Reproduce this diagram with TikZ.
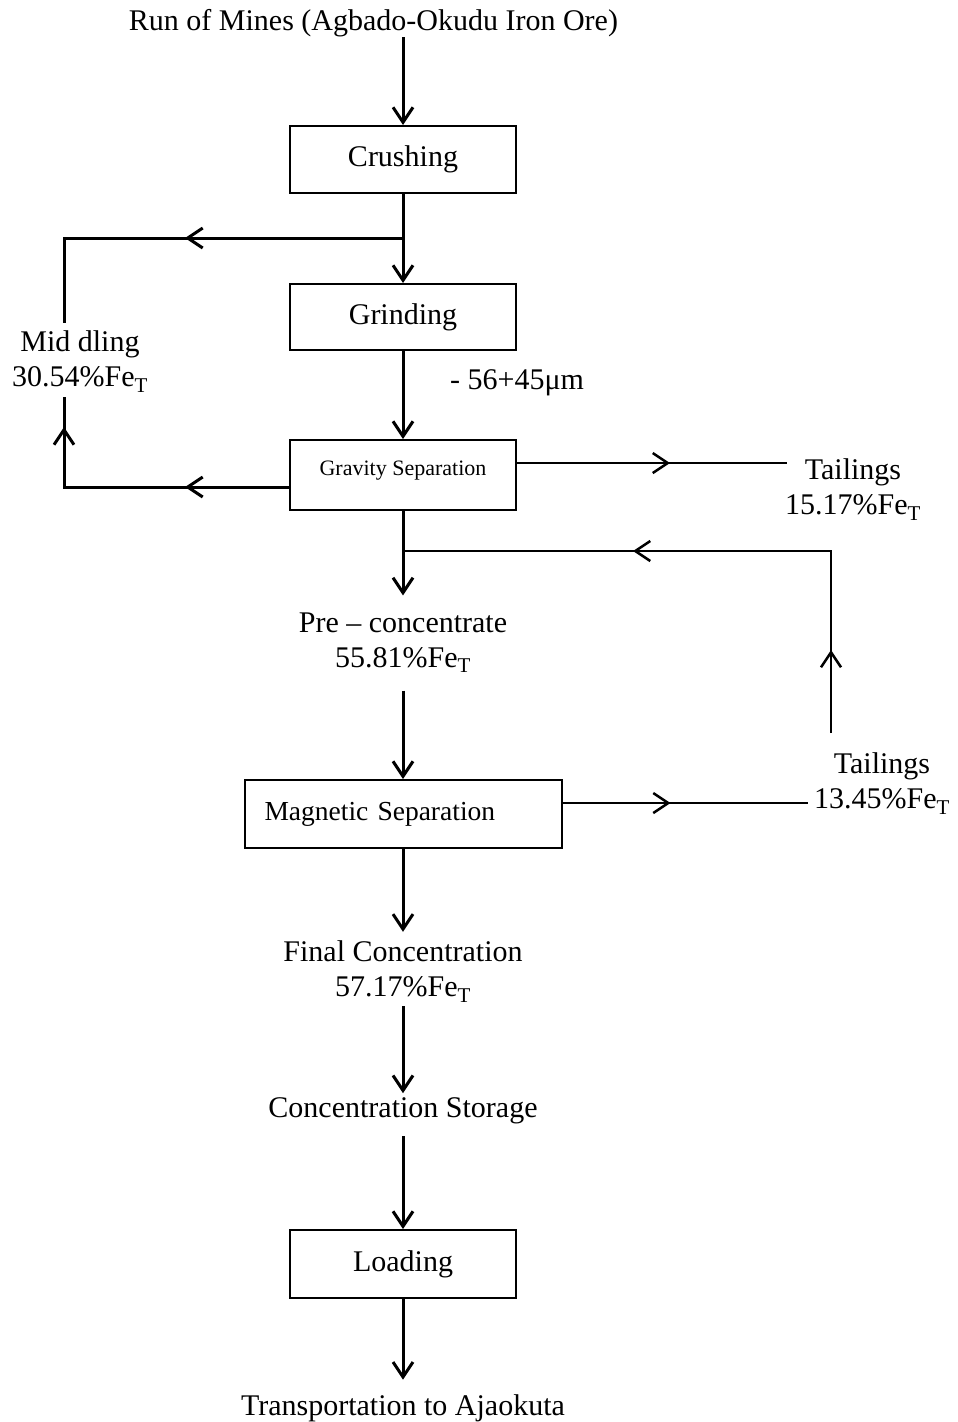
\documentclass[tikz,border=0pt]{standalone}
\usepackage{fontspec}
\setmainfont{Liberation Serif}
\usetikzlibrary{arrows.meta,decorations.markings}
\begin{document}
\begin{tikzpicture}[x=1pt,y=-1pt,
  barb/.tip={Straight Barb[length=15pt,width=20pt]},
  box/.style={draw, line width=2pt, minimum width=226pt, inner sep=0pt, font=\fontsize{30}{35}\selectfont},
  txt/.style={align=center, inner sep=0pt, font=\fontsize{30}{35}\selectfont},
  flow/.style={line width=3pt, -barb},
  loopline/.style={line width=3pt},
  sideline/.style={line width=2.5pt},
  midarrow/.style={postaction={decorate, decoration={markings, mark=at position #1 with {\arrow{barb}}}}}
]
\path[fill=white] (0,0) rectangle (958,1422);
\useasboundingbox (0,0) rectangle (958,1422);

% nodes
\node[txt] (title) at (373.5,23) {Run of Mines (Agbado-Okudu Iron Ore)};
\node[box, minimum height=67pt] (crush) at (403,159.5) {Crushing};
\node[box, minimum height=66pt] (grind) at (403,317) {Grinding};
\node[box, minimum height=70pt, font=\fontsize{22}{26}\selectfont, text height=15pt, text depth=15pt] (grav) at (403,475) {Gravity Separation};
\node[txt] (size) at (517,383) {- 56+45μm};
\node[txt] (mid) at (80,361.5) {Mid dling\\30.54\%Fe\textsubscript{T}};
\node[txt] (tail1) at (853,489.5) {Tailings\\15.17\%Fe\textsubscript{T}};
\node[txt] (pre) at (403,642.5) {Pre – concentrate\\55.81\%Fe\textsubscript{T}};
\node[box, minimum width=317pt, minimum height=68pt, text width=277pt, align=left, inner xsep=20pt, font=\fontsize{27.5}{32}\selectfont] (mag) at (403,814) {Magnetic Separation};
\node[txt] (tail2) at (882,783.5) {Tailings\\13.45\%Fe\textsubscript{T}};
\node[txt] (final) at (403,971.5) {Final Concentration\\57.17\%Fe\textsubscript{T}};
\node[txt] (store) at (403,1111) {Concentration Storage};
\node[box, minimum height=68pt] (load) at (403,1264) {Loading};
\node[txt] (trans) at (403,1408) {Transportation to Ajaokuta};

% main flow
\draw[flow] (title.south -| crush.north) -- (crush.north);
\draw[flow] (crush.south) -- (grind.north);
\draw[flow] (grind.south) -- (grav.north);
\draw[flow] (grav.south) -- ([yshift=17pt]pre.north);
\draw[flow] ([yshift=-18pt]pre.south) -- (mag.north);
\draw[flow] (mag.south) -- ([yshift=9pt]final.north);
\draw[flow] ([yshift=-4pt]final.south) -- ([yshift=4.5pt]store.north);
\draw[flow] ([yshift=-12pt]store.south) -- (load.north);
\draw[flow] (load.south) -- ([yshift=14.5pt]trans.north);

% middling loop
\coordinate (b1) at (403,238);
\coordinate (c1) at (64,238);
\coordinate (m1) at (64,323);
\coordinate (m2) at (64,397);
\coordinate (c2) at (64,487);
\draw[loopline, midarrow=218pt] (b1) -- (c1) -- (m1);
\draw[loopline, midarrow=104pt, midarrow=285pt] ([yshift=-12pt]grav.west) -- (c2) -- (m2);

% tailings
\coordinate (t1) at (787,463);
\draw[sideline, midarrow=153pt] ([yshift=12pt]grav.east) -- (t1);
\coordinate (t2) at (808,803);
\draw[sideline, midarrow=108pt] ([yshift=11pt]mag.east) -- (t2);
\coordinate (r1) at (831,733);
\coordinate (r2) at (831,551);
\coordinate (r3) at (403,551);
\draw[sideline, midarrow=83pt, midarrow=380pt] (r1) -- (r2) -- (r3);
\end{tikzpicture}
\end{document}
